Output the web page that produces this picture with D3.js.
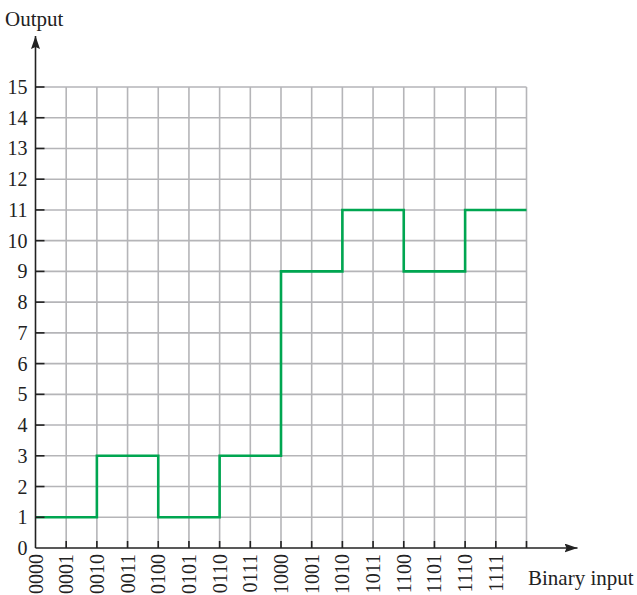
<!DOCTYPE html>
<html>
<head>
<meta charset="utf-8">
<script src="https://cdn.jsdelivr.net/npm/d3@7"></script>
<style>
  body { margin: 0; background: #fff; }
  text { font-family: "Liberation Serif", "Times New Roman", serif; fill: #222; }
</style>
</head>
<body>
<svg id="chart" width="637" height="595"></svg>
<script>
// Data: step function, output value for each binary input
var codes = ["0000","0001","0010","0011","0100","0101","0110","0111",
             "1000","1001","1010","1011","1100","1101","1110","1111"];
var outputs = [1,1,3,3,1,1,3,3,9,9,11,11,9,9,11,11];
var yTicks = d3.range(0, 16);

// plot area: origin (35.5, 548), top-right (526.5, 87)
var margin = {left: 35.5, top: 87};
var width = 491;
var height = 461;

var x = d3.scaleLinear().domain([0, 16]).range([0, width]);
var y = d3.scaleLinear().domain([0, 15]).range([height, 0]);

var svg = d3.select("#chart");
var g = svg.append("g").attr("transform", "translate(" + margin.left + "," + margin.top + ")");

// arrow head
svg.append("defs").append("marker")
    .attr("id", "arrow")
    .attr("viewBox", "0 0 13 9")
    .attr("refX", 13).attr("refY", 4.5)
    .attr("markerWidth", 13).attr("markerHeight", 9)
    .attr("markerUnits", "userSpaceOnUse")
    .attr("orient", "auto")
  .append("path")
    .attr("d", "M0,0 L13,4.5 L0,9 L2,4.5 Z")
    .attr("fill", "#222");

// grid
g.selectAll(".vgrid").data(d3.range(1, 17)).enter().append("line")
    .attr("x1", d => x(d)).attr("x2", d => x(d))
    .attr("y1", 0).attr("y2", height)
    .attr("stroke", "#b5b5b8").attr("stroke-width", 1.6);
g.selectAll(".hgrid").data(yTicks.slice(1)).enter().append("line")
    .attr("x1", 0).attr("x2", width)
    .attr("y1", d => y(d)).attr("y2", d => y(d))
    .attr("stroke", "#b5b5b8").attr("stroke-width", 1.6);

// step line
var pts = [];
outputs.forEach(function(v, i) { pts.push([i, v]); pts.push([i + 1, v]); });
var line = d3.line().x(d => x(d[0])).y(d => y(d[1]));
g.append("path")
    .attr("d", line(pts))
    .attr("fill", "none")
    .attr("stroke", "#00a651")
    .attr("stroke-width", 2.6);

// y axis
g.append("line")
    .attr("x1", 0).attr("x2", 0)
    .attr("y1", height).attr("y2", -51)
    .attr("stroke", "#222").attr("stroke-width", 1.6)
    .attr("marker-end", "url(#arrow)");
g.selectAll(".ytick").data(yTicks.slice(1)).enter().append("line")
    .attr("x1", 0).attr("x2", 9)
    .attr("y1", d => y(d)).attr("y2", d => y(d))
    .attr("stroke", "#222").attr("stroke-width", 1.6);
g.selectAll(".ylab").data(yTicks).enter().append("text")
    .attr("x", -8).attr("y", d => y(d) + 7)
    .attr("text-anchor", "end")
    .style("font-size", "20px")
    .text(d => d);

// x axis
g.append("line")
    .attr("x1", 0).attr("x2", width + 51)
    .attr("y1", height).attr("y2", height)
    .attr("stroke", "#222").attr("stroke-width", 1.6)
    .attr("marker-end", "url(#arrow)");
g.selectAll(".xtick").data(d3.range(1, 17)).enter().append("line")
    .attr("x1", d => x(d)).attr("x2", d => x(d))
    .attr("y1", height).attr("y2", height - 7)
    .attr("stroke", "#222").attr("stroke-width", 1.6);
g.selectAll(".xlab").data(codes).enter().append("text")
    .attr("transform", (d, i) => "translate(" + (x(i) + 7) + "," + (height + 6) + ") rotate(-90)")
    .attr("text-anchor", "end")
    .style("font-size", "20px")
    .text(d => d);

// titles
svg.append("text").attr("x", 5).attr("y", 26).style("font-size", "21px").text("Output");
svg.append("text").attr("x", 528).attr("y", 585).style("font-size", "21px").text("Binary input");
</script>
</body>
</html>
